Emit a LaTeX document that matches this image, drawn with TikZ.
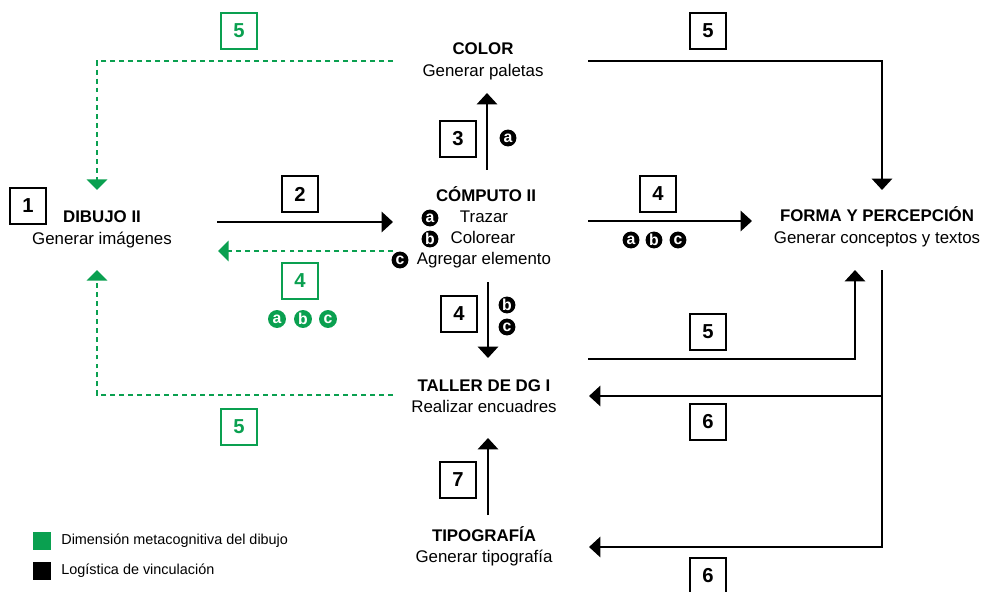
\documentclass[tikz,border=0pt]{standalone}
\usepackage{fontspec}
\setmainfont{Liberation Sans}
\usetikzlibrary{arrows.meta}
\definecolor{grn}{RGB}{10,160,80}
\begin{document}
\begin{tikzpicture}[x=0.02cm,y=-0.02cm,
  lbl/.style={inner sep=0pt, font=\fontsize{9.6pt}{11pt}\selectfont, text height=7pt, text depth=2pt},
  ttl/.style={lbl, font=\bfseries\fontsize{9.6pt}{11pt}\selectfont},
  numbox/.style={draw, line width=0.9pt, minimum size=20.5pt, inner sep=0pt, font=\bfseries\fontsize{11.5pt}{12pt}\selectfont},
  gnumbox/.style={numbox, draw=grn, text=grn, line width=1.1pt},
  cl/.style={circle, fill=black, text=white, inner sep=0pt, minimum size=9.6pt, font=\bfseries\fontsize{9pt}{9pt}\selectfont},
  gcl/.style={cl, fill=grn, minimum size=10.2pt},
  conn/.style={line width=1.6pt, -{Triangle[length=6.5pt,width=11.5pt]}},
  gconn/.style={grn, line width=1.4pt, dash pattern=on 2.8pt off 2.3pt, -{Triangle[length=6pt,width=11.5pt]}},
  legtxt/.style={inner sep=0pt, anchor=west, font=\fontsize{8.2pt}{9pt}\selectfont, text height=6pt, text depth=1.7pt},
]
\useasboundingbox (0,0) rectangle (989,591);

% nodes
\node[numbox] (b1) at (28,206) {1};
\node[ttl] (dibujo) at (102,218) {DIBUJO II};
\node[lbl] (dibujoS) at (102,240) {Generar imágenes};

\node[ttl] (color) at (483,50) {COLOR};
\node[lbl] (colorS) at (483,72) {Generar paletas};

\node[ttl] (computo) at (486,197) {CÓMPUTO II};
\node[cl] (ca) at (430,218) {a};
\node[lbl] (trazar) at (484,218) {Trazar};
\node[cl] (cb) at (430,239) {b};
\node[lbl] (colorear) at (483,239) {Colorear};
\node[cl] (cc) at (400,260) {c};
\node[lbl] (agregar) at (484,260) {Agregar elemento};

\node[ttl] (taller) at (484,387) {TALLER DE DG I};
\node[lbl] (tallerS) at (484,408) {Realizar encuadres};

\node[ttl] (tipo) at (484,537) {TIPOGRAFÍA};
\node[lbl] (tipoS) at (484,558) {Generar tipografía};

\node[ttl] (forma) at (877,217) {FORMA Y PERCEPCIÓN};
\node[lbl] (formaS) at (877,239) {Generar conceptos y textos};

% number boxes
\node[numbox] (b2) at (300,194) {2};
\node[numbox] (b3) at (458,139) {3};
\node[cl] (c3a) at (508,138) {a};
\node[numbox] (b4d) at (459,314) {4};
\node[cl] (c4b) at (507,305) {b};
\node[cl] (c4c) at (507,327) {c};
\node[numbox] (b7) at (458,480) {7};
\node[numbox] (b5t) at (708,31) {5};
\node[numbox] (b4r) at (658,194) {4};
\node[cl] (r4a) at (631,240) {a};
\node[cl] (r4b) at (654,240) {b};
\node[cl] (r4c) at (678,240) {c};
\node[numbox] (b5l) at (708,332) {5};
\node[numbox] (b6a) at (708,422) {6};
\node[numbox] (b6b) at (708,576) {6};

\node[gnumbox] (g5t) at (239,31) {5};
\node[gnumbox] (g4) at (300,281) {4};
\node[gcl] (g4a) at (277,319) {a};
\node[gcl] (g4b) at (303,319) {b};
\node[gcl] (g4c) at (328,319) {c};
\node[gnumbox] (g5l) at (239,427) {5};

% legend
\node[fill=grn, minimum size=10pt, inner sep=0pt] (lg) at (42,541) {};
\node[legtxt] (lgt) at (61,541) {Dimensión metacognitiva del dibujo};
\node[fill=black, minimum size=10pt, inner sep=0pt] (lk) at (42,571) {};
\node[legtxt] (lkt) at (61,571) {Logística de vinculación};

% coordinates
\coordinate (a2s) at (217,222); \coordinate (a2e) at (393,222);
\coordinate (g4s) at (393,251); \coordinate (g4e) at (218,251);
\coordinate (a3s) at (487,170); \coordinate (a3e) at (487,93);
\coordinate (a4s) at (488,282); \coordinate (a4e) at (488,358);
\coordinate (a7s) at (488,515); \coordinate (a7e) at (488,438);
\coordinate (gts) at (393,61); \coordinate (gtc) at (97,61); \coordinate (gte) at (97,190);
\coordinate (gls) at (393,395); \coordinate (glc) at (97,395); \coordinate (gle) at (97,270);
\coordinate (kts) at (588,61); \coordinate (ktc) at (882,61); \coordinate (kte) at (882,190);
\coordinate (a4rs) at (588,221); \coordinate (a4re) at (752,221);
\coordinate (k5s) at (588,359); \coordinate (k5c) at (855,359); \coordinate (k5e) at (855,270);
\coordinate (k6s) at (882,270); \coordinate (k6j) at (882,396); \coordinate (k6c) at (882,547);
\coordinate (k6ae) at (589,396); \coordinate (k6be) at (589,547);

% connectors
\draw[conn] (a2s) -- (a2e);
\draw[gconn] (g4s) -- (g4e);
\draw[conn] (a3s) -- (a3e);
\draw[conn] (a4s) -- (a4e);
\draw[conn] (a7s) -- (a7e);
\draw[gconn] (gts) -- (gtc) -- (gte);
\draw[gconn] (gls) -- (glc) -- (gle);
\draw[conn] (kts) -- (ktc) -- (kte);
\draw[conn] (a4rs) -- (a4re);
\draw[conn] (k5s) -- (k5c) -- (k5e);
\draw[conn] (k6s) -- (k6c) -- (k6be);
\draw[conn] (k6j) -- (k6ae);
\end{tikzpicture}
\end{document}
